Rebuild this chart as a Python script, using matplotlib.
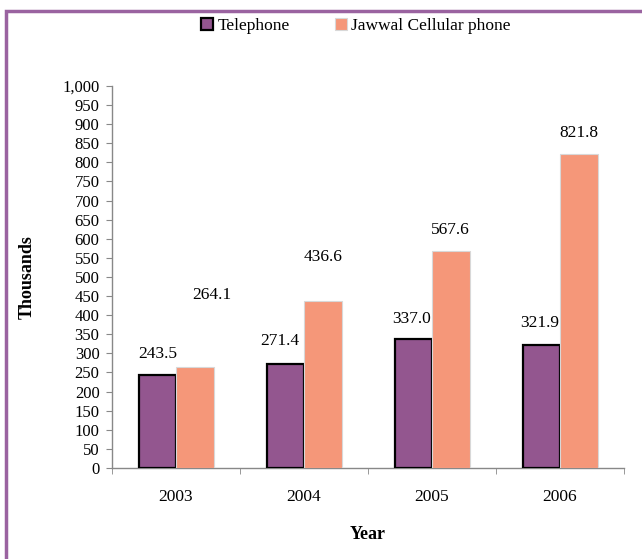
import matplotlib.pyplot as plt
import numpy as np
from matplotlib.patches import Rectangle
from matplotlib.ticker import FuncFormatter, FixedLocator

plt.rcParams['font.family'] = ['Liberation Serif', 'DejaVu Serif']

years = ['2003', '2004', '2005', '2006']
telephone = [243.5, 271.4, 337.0, 321.9]
jawwal = [264.1, 436.6, 567.6, 821.8]

# label offsets (points, label centre from bar top) as placed in the original
tel_offsets = [(0, 15), (-4, 17), (-1, 14.5), (-1.5, 16)]
jaw_offsets = [(12, 52), (0, 32), (0, 15.5), (0, 15.5)]

purple = '#93568f'
salmon = '#f59779'

fig = plt.figure(figsize=(6.42, 5.59), dpi=100)
ax = fig.add_axes([0.1745, 0.1628, 0.7975, 0.6834])

x = np.arange(len(years))
w = 0.293
b1 = ax.bar(x - w / 2, telephone, w, color=purple, edgecolor='black', linewidth=1.6,
            label='Telephone', zorder=3)
b2 = ax.bar(x + w / 2, jawwal, w, color=salmon, edgecolor='#d8d8d8', linewidth=0.8,
            label='Jawwal Cellular phone', zorder=3)

for xi, v, off in zip(x - w / 2, telephone, tel_offsets):
    ax.annotate(f'{v:.1f}', (xi, v), xytext=off, textcoords='offset points',
                ha='center', va='center', fontsize=12.5)
for xi, v, off in zip(x + w / 2, jawwal, jaw_offsets):
    ax.annotate(f'{v:.1f}', (xi, v), xytext=off, textcoords='offset points',
                ha='center', va='center', fontsize=12.5)

ax.set_xlim(-0.5, len(years) - 0.5)
ax.set_ylim(0, 1000)
ax.set_yticks(np.arange(0, 1001, 50))
ax.yaxis.set_major_formatter(FuncFormatter(lambda v, p: f'{int(v):,}'))
ax.set_xticks(x)
ax.set_xticklabels(years)
ax.tick_params(axis='x', length=0, pad=15, labelsize=12.5)
ax.xaxis.set_minor_locator(FixedLocator(np.arange(-0.5, len(years), 1.0)))
ax.tick_params(axis='x', which='minor', length=4, color='#888888', direction='out')
ax.tick_params(axis='y', length=4, color='#888888', labelsize=12, pad=5)

for s in ['top', 'right']:
    ax.spines[s].set_visible(False)
for s in ['left', 'bottom']:
    ax.spines[s].set_color('#888888')
    ax.spines[s].set_linewidth(1.0)

ax.set_ylabel('Thousands', fontsize=13, fontweight='bold', va='center')
ax.yaxis.set_label_coords(-(112 - 27) / 512, 0.5)
ax.set_xlabel('Year', fontsize=13, fontweight='bold', va='center')
ax.xaxis.set_label_coords(0.5, -(535 - 468) / 382)

fig.legend(handles=[b1, b2], loc='center', bbox_to_anchor=(356 / 642, 1 - 26 / 559),
           ncol=2, frameon=False, fontsize=12.5, handlelength=0.7, handleheight=0.7,
           columnspacing=2.6, handletextpad=0.25)

# purple frame around the chart
frame = Rectangle((6 / 642, -0.1), 1.2, 1 - 11 / 559 + 0.1, transform=fig.transFigure,
                  fill=False, edgecolor='#9a63a0', linewidth=2.5, clip_on=False)
fig.add_artist(frame)

fig.savefig('out.png', dpi=100)
